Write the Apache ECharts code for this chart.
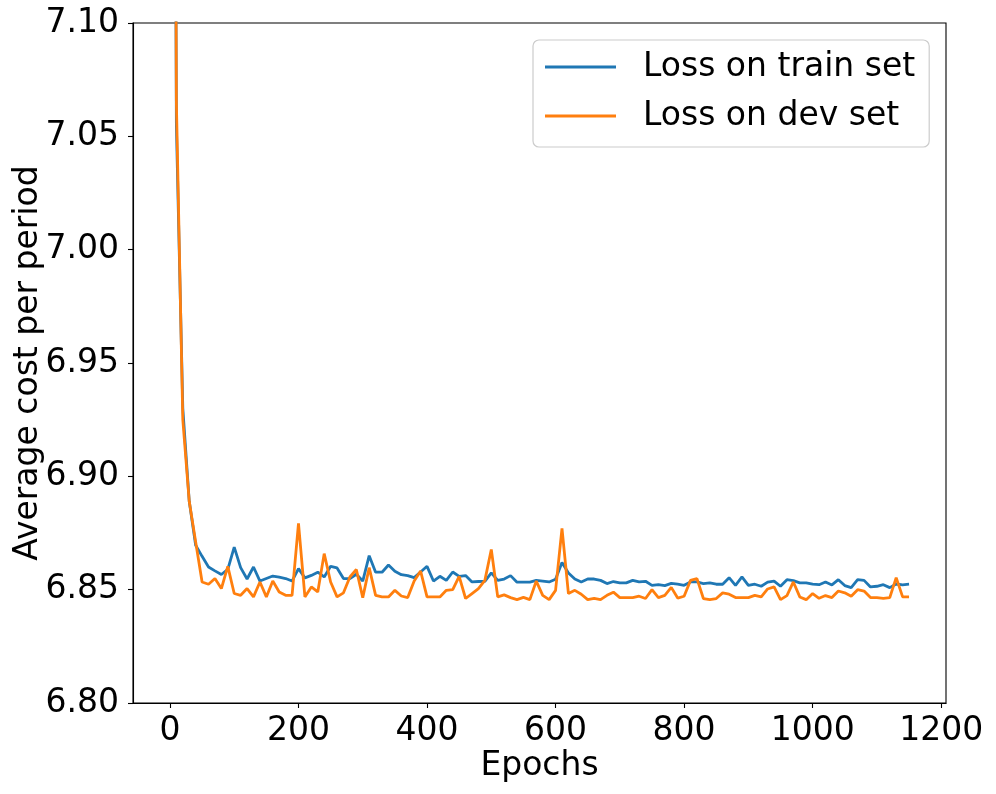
<!DOCTYPE html>
<html>
<head>
<meta charset="utf-8">
<script src="https://cdn.jsdelivr.net/npm/echarts@6/dist/echarts.min.js"></script>
<style>
html,body{margin:0;padding:0;background:#fff;}
#chart{width:996px;height:794px;}
</style>
</head>
<body>
<div id="chart"></div>
<script>
const epochs = [0,10,20,30,40,50,60,70,80,90,100,110,120,130,140,150,160,170,180,190,200,210,220,230,240,250,260,270,280,290,300,310,320,330,340,350,360,370,380,390,400,410,420,430,440,450,460,470,480,490,500,510,520,530,540,550,560,570,580,590,600,610,620,630,640,650,660,670,680,690,700,710,720,730,740,750,760,770,780,790,800,810,820,830,840,850,860,870,880,890,900,910,920,930,940,950,960,970,980,990,1000,1010,1020,1030,1040,1050,1060,1070,1080,1090,1100,1110,1120,1130,1140,1150];

const trainLoss = [7.80,7.055,6.930,6.889,6.8696,6.8647,6.8600,6.8583,6.8567,6.8590,6.8688,6.8597,6.8547,6.8600,6.8538,6.8549,6.8560,6.8555,6.8549,6.8538,
6.8593,6.8552,6.8563,6.8577,6.8556,6.8603,6.8596,6.8549,6.8549,6.8568,6.8538,6.8650,6.8577,6.8577,6.8609,6.8581,6.8566,6.8562,6.8553,6.8578,
6.8603,6.8538,6.8559,6.8541,6.8578,6.8559,6.8562,6.8534,6.8536,6.8537,6.8574,6.8541,6.8547,6.8562,6.8533,6.8533,6.8533,6.8541,6.8538,6.8534,
6.8546,6.8620,6.8574,6.8547,6.8534,6.8547,6.8547,6.8541,6.8527,6.8536,6.8530,6.8530,6.8541,6.8534,6.8537,6.8519,6.8522,6.8518,6.8528,6.8524,
6.8519,6.8534,6.8534,6.8527,6.8530,6.8524,6.8524,6.8553,6.8519,6.8556,6.8519,6.8524,6.8515,6.8533,6.8538,6.8515,6.8544,6.8540,6.8530,6.8530,
6.8524,6.8522,6.8534,6.8521,6.8544,6.8518,6.8509,6.8544,6.8541,6.8512,6.8515,6.8522,6.8509,6.8525,6.8521,6.8524];

const devLoss = [7.85,7.065,6.925,6.889,6.871,6.8534,6.8524,6.8549,6.8505,6.8603,6.8483,6.8475,6.8505,6.8468,6.8534,6.8468,6.8538,6.8490,6.8475,6.8475,
6.8792,6.8468,6.8512,6.8490,6.8659,6.8534,6.8468,6.8486,6.8556,6.8589,6.8465,6.8597,6.8475,6.8468,6.8468,6.8497,6.8472,6.8465,6.8538,6.8582,
6.8468,6.8468,6.8468,6.8497,6.8500,6.8559,6.8461,6.8483,6.8505,6.8541,6.8677,6.8468,6.8477,6.8465,6.8456,6.8466,6.8456,6.8538,6.8475,6.8456,
6.8497,6.8770,6.8483,6.8497,6.8480,6.8456,6.8462,6.8456,6.8475,6.8489,6.8465,6.8465,6.8465,6.8471,6.8461,6.8500,6.8465,6.8475,6.8510,6.8463,
6.8471,6.8541,6.8549,6.8461,6.8456,6.8461,6.8486,6.8480,6.8465,6.8465,6.8465,6.8475,6.8468,6.8503,6.8512,6.8456,6.8474,6.8534,6.8468,6.8456,
6.8483,6.8462,6.8474,6.8465,6.8494,6.8486,6.8471,6.8500,6.8494,6.8465,6.8465,6.8462,6.8465,6.8553,6.8468,6.8468];

const xTicks = [0,200,400,600,800,1000,1200];
const yTicks = [6.80,6.85,6.90,6.95,7.00,7.05,7.10];

const seriesNames = ['Loss on train set','Loss on dev set'];
const FONT = 'DejaVu Sans';

const chart = echarts.init(document.getElementById('chart'), null, {renderer:'canvas'});
chart.setOption({
  animation:false,
  backgroundColor:'#ffffff',
  textStyle:{fontFamily:FONT},
  grid:{left:133,top:23,right:50,bottom:91,containLabel:false,outerBoundsMode:'none',show:true,borderColor:'#000',borderWidth:1.1,backgroundColor:'transparent'},
  legend:{
    orient:'vertical',
    left:533, top:40,
    data:seriesNames,
    icon:'rect',
    itemWidth:71, itemHeight:2.8,
    itemGap:9,
    padding:[7,14,11,12],
    backgroundColor:'#fff',
    borderColor:'#cccccc', borderWidth:1.2, borderRadius:6,
    textStyle:{fontFamily:FONT,fontSize:33,color:'#000',lineHeight:40,padding:[0,0,0,22]}
  },
  xAxis:{
    type:'value', min:-57.5, max:1207.5,
    name:'Epochs', nameLocation:'middle', nameGap:47, nameMoveOverlap:false,
    nameTextStyle:{fontFamily:FONT,fontSize:33,color:'#000'},
    axisLine:{show:true,onZero:false,lineStyle:{color:'#000',width:1.1}},
    axisTick:{show:true,length:5,lineStyle:{color:'#000',width:1.1},customValues:xTicks},
    axisLabel:{fontFamily:FONT,fontSize:33,color:'#000',margin:12,customValues:xTicks,formatter:v=>String(Math.round(v))},
    splitLine:{show:false}
  },
  yAxis:{
    type:'value', min:6.80, max:7.10,
    name:'Average cost per period', nameLocation:'middle', nameGap:88, nameMoveOverlap:false,
    nameTextStyle:{fontFamily:FONT,fontSize:33,color:'#000'},
    axisLine:{show:true,onZero:false,lineStyle:{color:'#000',width:1.1}},
    axisTick:{show:true,length:5,lineStyle:{color:'#000',width:1.1},customValues:yTicks},
    axisLabel:{fontFamily:FONT,fontSize:33,color:'#000',margin:14,customValues:yTicks,formatter:v=>Number(v).toFixed(2)},
    splitLine:{show:false}
  },
  series:[
    {name:seriesNames[0],type:'line',data:epochs.map((e,i)=>[e,trainLoss[i]]),showSymbol:false,symbol:'none',clip:true,
     lineStyle:{color:'#1f77b4',width:2.8},itemStyle:{color:'#1f77b4'}},
    {name:seriesNames[1],type:'line',data:epochs.map((e,i)=>[e,devLoss[i]]),showSymbol:false,symbol:'none',clip:true,
     lineStyle:{color:'#ff7f0e',width:2.8},itemStyle:{color:'#ff7f0e'}}
  ]
});
</script>
</body>
</html>
